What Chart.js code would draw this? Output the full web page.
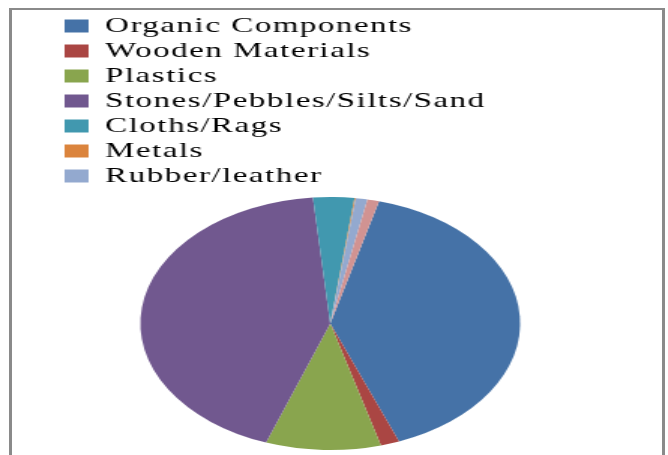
<!doctype html>
<html lang="en">
<head>
  <meta charset="utf-8" />
  <title>Waste composition</title>
  <script src="https://cdn.jsdelivr.net/npm/chart.js@4.4.3/dist/chart.umd.min.js"></script>
  <style>
    html, body {
      margin: 0;
      padding: 0;
      background: #fff;
      width: 668px;
      height: 455px;
      overflow: hidden;
    }
    .frame {
      position: absolute;
      left: 9px;
      top: 8px;
      width: 650px;
      height: 520px;
      border-left: 3px solid #8a8a8a;
      border-top: 2px solid #8a8a8a;
      border-right: 3px solid #8a8a8a;
    }
    /* the original figure is stretched horizontally, so the canvas is too */
    .chart-wrap {
      position: absolute;
      left: 0;
      top: 0;
      width: 445px;
      height: 455px;
      transform: scaleX(1.5011);
      transform-origin: 0 0;
    }
  </style>
</head>
<body>
  <div class="frame"></div>
  <div class="chart-wrap">
    <canvas id="pieChart"></canvas>
  </div>
  <script>
    const categories = [
      "Organic Components",
      "Wooden Materials",
      "Plastics",
      "Stones/Pebbles/Silts/Sand",
      "Cloths/Rags",
      "Metals",
      "Rubber/leather",
      "Others",
    ];
    const shares = [40.0, 1.6, 9.8, 43.1, 3.5, 0.1, 1.0, 1.0];
    const colors = ["#4572A7", "#AA4643", "#89A54E", "#71588F", "#4198AF", "#DB843D", "#93A9CF", "#D19392"];
    const legendCount = 7; // the last slice has no legend entry in the original

    const pad = "\u00a0".repeat(30);
    const letterSpacing = {
      id: "letterSpacing",
      beforeLayout(chart) { chart.ctx.letterSpacing = "1px"; },
      beforeDraw(chart) { chart.ctx.letterSpacing = "1px"; },
    };

    new Chart(document.getElementById("pieChart"), {
      type: "pie",
      data: {
        labels: categories,
        datasets: [{
          data: shares,
          backgroundColor: colors,
          borderWidth: 0,
        }],
      },
      options: {
        responsive: true,
        maintainAspectRatio: false,
        animation: false,
        rotation: 14.9,
        layout: { padding: { left: 40, right: 45, top: 12, bottom: 5 } },
        plugins: {
          tooltip: { enabled: false },
          legend: {
            position: "top",
            align: "start",
            labels: {
              color: "#000",
              font: { family: "'Liberation Serif', 'Times New Roman', serif", size: 22 },
              boxWidth: 16,
              boxHeight: 13,
              padding: 3,
              filter: (item) => item.index < legendCount,
              generateLabels(chart) {
                const base = Chart.overrides.pie.plugins.legend.labels.generateLabels(chart);
                return base.map((item) => ({ ...item, text: item.text + pad, lineWidth: 0 }));
              },
            },
          },
        },
      },
      plugins: [letterSpacing],
    });
  </script>
</body>
</html>
